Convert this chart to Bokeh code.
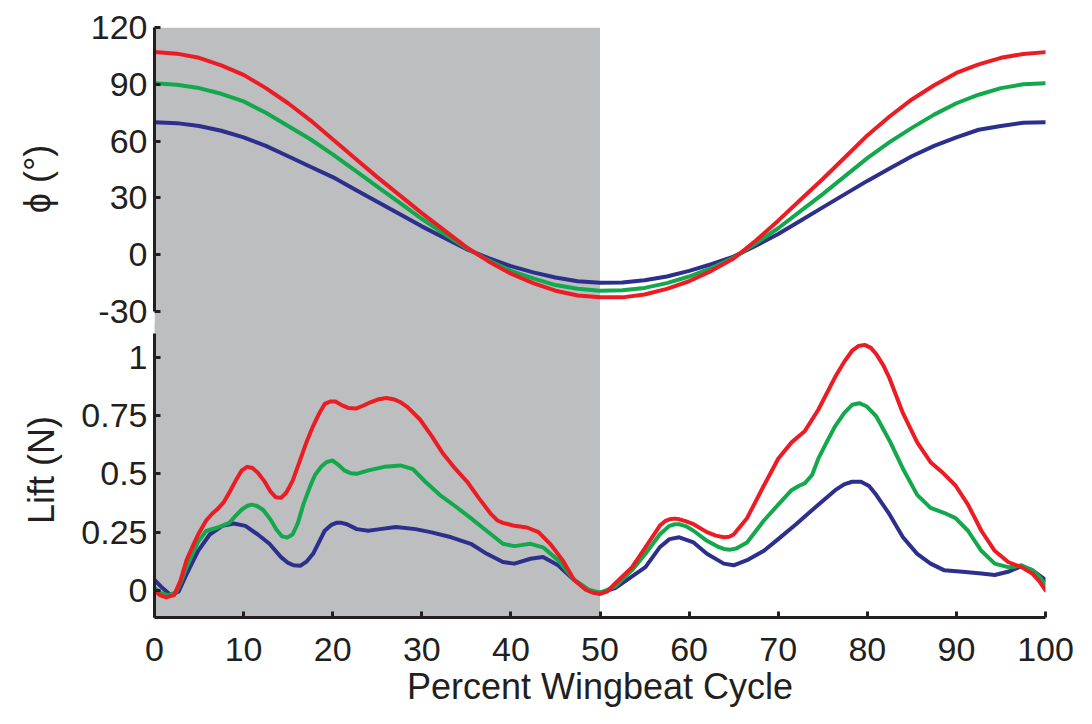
from bokeh.plotting import figure
from bokeh.models import Range1d, FixedTicker, BoxAnnotation
from bokeh.layouts import column
from bokeh.embed import file_html
from bokeh.resources import INLINE

# stroke angle, read every 2.5 % of the cycle
phi_x = [0, 2.5, 5, 7.5, 10, 12.5, 15, 17.5, 20, 22.5, 25, 27.5, 30, 32.5, 35, 37.5, 40, 42.5, 45, 47.5, 50,
         52.5, 55, 57.5, 60, 62.5, 65, 67.5, 70, 72.5, 75, 77.5, 80, 82.5, 85, 87.5, 90, 92.5, 95, 97.5, 100]
phi_red = [107, 106.2, 104, 100, 95, 88, 80, 71, 61, 51, 41, 31.5, 22, 13, 4, -3.5, -10, -15, -19, -21.5, -22.5,
           -22.5, -21, -18, -14, -8.5, -2, 7.5, 18, 29, 40, 51.5, 63, 73, 82, 89.5, 96, 100.5, 104, 106, 107]
phi_green = [90.5, 89.8, 88, 85, 81, 75, 68, 61, 53, 44.5, 36, 27.5, 19, 11, 3.5, -3, -8.5, -12.5, -16, -18, -19,
             -18.8, -17.5, -15, -11.5, -7, -1.5, 6, 14, 23, 32, 41.5, 51, 59.5, 67, 74, 80, 84.5, 88, 90, 90.5]
phi_blue = [70, 69.5, 68, 65.5, 62, 57.5, 52, 46.5, 41, 34.5, 28, 21.5, 15, 9, 3, -1.8, -6, -9.3, -12, -14, -14.8,
            -14.7, -13.5, -11.5, -8.5, -5, -1, 4.8, 11, 18, 25, 32, 39, 45.5, 52, 57.5, 62, 66, 68, 69.7, 70]

# lift traces
lift_x_red = [0, 0.6, 1.3, 2.2, 2.9, 3.6, 4.3, 4.9, 5.8, 6.5, 7.1, 7.8, 8.4, 9.1, 9.8, 10.4, 11.0, 11.6, 12.3,
              13.0, 13.6, 14.2, 14.8, 15.5, 16.4, 17.1, 17.8, 18.5, 19.1, 19.7, 20.3, 21.0, 21.8, 22.6, 23.4,
              24.3, 25.2, 26.0, 26.8, 27.6, 28.4, 29.8, 31.1, 32.4, 33.8, 35.1, 36.4, 37.8, 38.5, 39.1, 40.4,
              41.8, 43.1, 44.4, 45.8, 47.1, 48.4, 49.2, 50, 50.8, 51.7, 53.6, 55.1, 56.7, 57.3, 57.8, 58.4,
              58.9, 59.6, 60.5, 62, 63, 63.9, 64.5, 65, 66.5, 68.4, 70, 71.5, 73, 74.5, 76.4, 77.4, 78.3, 79.0,
              79.7, 80.4, 81, 81.8, 82.5, 84, 85.6, 87.1, 88.6, 89.9, 91.3, 92.8, 94.3, 95.8, 97.3, 98.5,
              99.3, 100]
lift_red = [0.0, -0.02, -0.03, -0.02, 0.04, 0.13, 0.19, 0.24, 0.30, 0.33, 0.35, 0.38, 0.42, 0.47, 0.515, 0.53,
            0.525, 0.505, 0.47, 0.425, 0.40, 0.397, 0.42, 0.47, 0.565, 0.64, 0.705, 0.76, 0.80, 0.81, 0.81,
            0.795, 0.782, 0.78, 0.792, 0.808, 0.82, 0.825, 0.82, 0.808, 0.786, 0.733, 0.663, 0.586, 0.52,
            0.466, 0.396, 0.326, 0.30, 0.29, 0.277, 0.27, 0.25, 0.20, 0.13, 0.045, 0.003, -0.01, -0.015,
            -0.005, 0.03, 0.10, 0.185, 0.277, 0.297, 0.305, 0.308, 0.305, 0.297, 0.284, 0.25, 0.235, 0.228,
            0.23, 0.24, 0.31, 0.45, 0.565, 0.635, 0.684, 0.775, 0.916, 0.98, 1.028, 1.048, 1.053, 1.04,
            1.014, 0.965, 0.909, 0.76, 0.635, 0.55, 0.50, 0.45, 0.368, 0.256, 0.17, 0.122, 0.10, 0.073,
            0.04, 0.0]

lift_x_green = [0, 0.7, 1.5, 2.4, 3.0, 3.6, 4.3, 4.9, 5.8, 7.1, 8.4, 9.1, 9.8, 10.4, 10.9, 11.5, 12.2, 13.0,
                13.7, 14.3, 14.9, 15.5, 16.1, 16.7, 17.4, 18, 18.7, 19.3, 20, 20.6, 21.3, 22, 22.7, 24, 25.8,
                27.6, 29, 30.4, 32, 33.8, 35.5, 37.3, 39.1, 40.4, 42.2, 43.6, 45.3, 47.1, 48.7, 50, 51.7,
                53.6, 55.1, 56.7, 57.8, 58.4, 58.9, 59.6, 60.5, 62, 63.2, 63.9, 64.6, 65.3, 66.5, 68.4, 70,
                71.5, 72.3, 73, 73.8, 74.5, 75.5, 76.4, 77.4, 78.3, 79.1, 79.9, 81, 82.5, 84, 85.6, 87.1,
                88.6, 89.9, 91.3, 92.8, 94.3, 95.8, 96.6, 97.3, 98.5, 99.3, 100]
lift_green = [0.01, -0.01, -0.02, -0.01, 0.04, 0.10, 0.16, 0.21, 0.255, 0.27, 0.29, 0.32, 0.347, 0.362, 0.368,
              0.362, 0.345, 0.305, 0.26, 0.232, 0.227, 0.24, 0.29, 0.368, 0.44, 0.494, 0.53, 0.55, 0.557,
              0.54, 0.515, 0.503, 0.50, 0.515, 0.53, 0.536, 0.52, 0.466, 0.41, 0.36, 0.31, 0.255, 0.20,
              0.19, 0.20, 0.185, 0.13, 0.045, 0.003, -0.01, 0.017, 0.087, 0.157, 0.24, 0.277, 0.284, 0.284,
              0.276, 0.256, 0.213, 0.188, 0.178, 0.175, 0.18, 0.206, 0.30, 0.368, 0.43, 0.448, 0.46, 0.495,
              0.565, 0.64, 0.705, 0.76, 0.796, 0.803, 0.79, 0.747, 0.642, 0.522, 0.41, 0.354, 0.333, 0.31,
              0.256, 0.17, 0.115, 0.10, 0.102, 0.108, 0.087, 0.06, 0.025]

lift_x_blue = [0, 0.9, 1.8, 2.7, 3.6, 4.9, 6.2, 7.6, 8.9, 10.2, 11.6, 12.9, 14.2, 15.0, 15.6, 16.4, 17.1, 17.8,
               19.1, 19.8, 20.4, 21.0, 21.6, 22.7, 24, 25.3, 27.1, 29.3, 31.1, 33.3, 35.5, 37.3, 39.1, 40.4,
               42.2, 43.6, 45.3, 47.1, 49, 50, 51.7, 53.6, 55.1, 56.7, 57.8, 58.9, 60.5, 62, 63.9, 65, 66.5,
               68.4, 70, 72, 74.5, 76.4, 77.4, 78.3, 79.3, 80.2, 81, 82.5, 84, 85.6, 87.1, 88.6, 90.7, 92.8,
               94.3, 95.8, 97.3, 98.5, 100]
lift_blue = [0.045, 0.01, -0.02, -0.005, 0.07, 0.17, 0.24, 0.277, 0.287, 0.277, 0.24, 0.20, 0.143, 0.118,
             0.108, 0.106, 0.125, 0.157, 0.256, 0.28, 0.29, 0.29, 0.284, 0.263, 0.256, 0.263, 0.272, 0.263,
             0.249, 0.228, 0.20, 0.157, 0.122, 0.115, 0.136, 0.143, 0.108, 0.045, -0.005, -0.01, 0.01, 0.06,
             0.10, 0.185, 0.22, 0.228, 0.206, 0.157, 0.115, 0.108, 0.13, 0.17, 0.22, 0.284, 0.368, 0.43,
             0.455, 0.466, 0.466, 0.448, 0.41, 0.326, 0.228, 0.157, 0.115, 0.087, 0.08, 0.073, 0.066, 0.08,
             0.104, 0.087, 0.045]

x_ticks = [0, 10, 20, 30, 40, 50, 60, 70, 80, 90, 100]
phi_ticks = [-30, 0, 30, 60, 90, 120]
phi_tick_labels = ["-30", "0", "30", "60", "90", "120"]
lift_ticks = [0, 0.25, 0.5, 0.75, 1]
lift_tick_labels = ["0", "0.25", "0.5", "0.75", "1"]
downstroke = (0, 50)

RED = "#ec1c24"
GREEN = "#12a84b"
BLUE = "#2c2f8c"
GREY = "#bcbec0"
INK = "#231f20"
FONT = "Liberation Sans"


def style_axis(ax, ticks, bounds, label, standoff):
    ax.ticker = FixedTicker(ticks=ticks)
    ax.bounds = bounds
    ax.axis_label = label
    ax.axis_label_text_font = FONT
    ax.axis_label_text_font_size = "36px"
    ax.axis_label_text_font_style = "normal"
    ax.axis_label_text_color = INK
    ax.axis_label_standoff = standoff
    ax.major_label_text_font = FONT
    ax.major_label_text_font_size = "34px"
    ax.major_label_text_color = INK
    ax.axis_line_width = 3
    ax.axis_line_color = INK
    ax.major_tick_line_width = 3
    ax.major_tick_line_color = INK
    ax.major_tick_in = 6
    ax.major_tick_out = 0
    ax.minor_tick_line_color = None


def base_figure(height, y_range, top, bottom):
    p = figure(width=1084, height=height, x_range=Range1d(0, 100), y_range=y_range,
               x_axis_location="below" if bottom > 0 else None,
               toolbar_location=None, output_backend="svg",
               min_border_left=154, min_border_right=39, min_border_top=top, min_border_bottom=bottom)
    p.outline_line_color = None
    p.xgrid.visible = False
    p.ygrid.visible = False
    p.add_layout(BoxAnnotation(left=downstroke[0], right=downstroke[1], fill_color=GREY, fill_alpha=1,
                               line_color=None, level="underlay"))
    return p


# upper panel: its frame runs a little past the seam so the shading stays continuous
top = base_figure(330, Range1d(-40, 120), 27, 0)
style_axis(top.yaxis[0], phi_ticks, (-30, 120), "ϕ (°)", 30)
top.yaxis.major_label_standoff = 7
top.yaxis.major_label_overrides = dict(zip(phi_ticks, phi_tick_labels))

for ys, col in [(phi_blue, BLUE), (phi_green, GREEN), (phi_red, RED)]:
    top.line(phi_x, ys, line_width=4, line_color=col, line_join="round", line_cap="round")

# lower panel overlaps the upper one by 8px, with transparent fills
bot = base_figure(397, Range1d(-0.116, 1.149), 0, 102)
bot.margin = (-8, 0, 0, 0)
bot.border_fill_color = None
bot.background_fill_color = None
style_axis(bot.yaxis[0], lift_ticks, (-0.116, 1.1), "Lift (N)", 16)
bot.yaxis.major_label_standoff = 7
bot.yaxis.major_label_overrides = dict(zip(lift_ticks, lift_tick_labels))
style_axis(bot.xaxis[0], x_ticks, (0, 100), "Percent Wingbeat Cycle", 2)
bot.xaxis.major_label_standoff = 20

for xs, ys, col in [(lift_x_blue, lift_blue, BLUE), (lift_x_green, lift_green, GREEN), (lift_x_red, lift_red, RED)]:
    bot.line(xs, ys, line_width=4, line_color=col, line_join="round", line_cap="round")

layout = column(top, bot, spacing=0)

open("out.html", "w").write(file_html(layout, INLINE))
